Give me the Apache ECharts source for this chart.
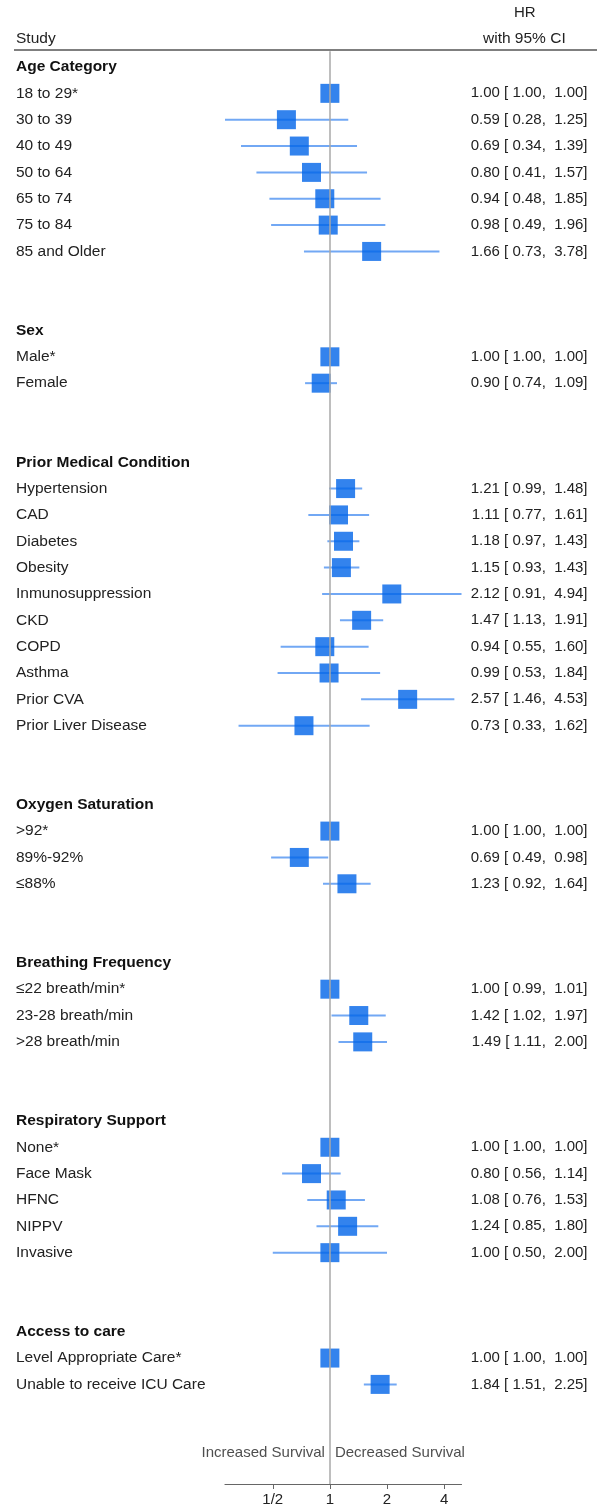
<!DOCTYPE html>
<html>
<head>
<meta charset="utf-8">
<script src="https://cdn.jsdelivr.net/npm/echarts@6/dist/echarts.min.js"></script>
<style>
  html, body { margin: 0; padding: 0; background: #fff; }
  #chart { width: 607px; height: 1507px; }
</style>
</head>
<body>
<div id="chart"></div>
<script>
// groups and how many studies each has
const groupNames = ["Age Category", "Sex", "Prior Medical Condition", "Oxygen Saturation",
  "Breathing Frequency", "Respiratory Support", "Access to care"];
const groupSizes = [7, 2, 10, 3, 3, 5, 2];

const studies = [
  "18 to 29*", "30 to 39", "40 to 49", "50 to 64", "65 to 74", "75 to 84", "85 and Older",
  "Male*", "Female",
  "Hypertension", "CAD", "Diabetes", "Obesity", "Inmunosuppression", "CKD", "COPD", "Asthma", "Prior CVA", "Prior Liver Disease",
  ">92*", "89%-92%", "≤88%",
  "≤22 breath/min*", "23-28 breath/min", ">28 breath/min",
  "None*", "Face Mask", "HFNC", "NIPPV", "Invasive",
  "Level Appropriate Care*", "Unable to receive ICU Care"
];
const hr = [1.00, 0.59, 0.69, 0.80, 0.94, 0.98, 1.66,
  1.00, 0.90,
  1.21, 1.11, 1.18, 1.15, 2.12, 1.47, 0.94, 0.99, 2.57, 0.73,
  1.00, 0.69, 1.23,
  1.00, 1.42, 1.49,
  1.00, 0.80, 1.08, 1.24, 1.00,
  1.00, 1.84];
const lower = [1.00, 0.28, 0.34, 0.41, 0.48, 0.49, 0.73,
  1.00, 0.74,
  0.99, 0.77, 0.97, 0.93, 0.91, 1.13, 0.55, 0.53, 1.46, 0.33,
  1.00, 0.49, 0.92,
  0.99, 1.02, 1.11,
  1.00, 0.56, 0.76, 0.85, 0.50,
  1.00, 1.51];
const upper = [1.00, 1.25, 1.39, 1.57, 1.85, 1.96, 3.78,
  1.00, 1.09,
  1.48, 1.61, 1.43, 1.43, 4.94, 1.91, 1.60, 1.84, 4.53, 1.62,
  1.00, 0.98, 1.64,
  1.01, 1.97, 2.00,
  1.00, 1.14, 1.53, 1.80, 2.00,
  1.00, 2.25];
const xTicks = [0.5, 1, 2, 4];
const xTickLabels = ["1/2", "1", "2", "4"];

// lay out rows: header, studies, two blank rows
let leftText = {};
let rightText = {};
let points = [];
let row = 0, k = 0;
groupNames.forEach((g, gi) => {
  leftText[row] = "{h|" + g + "}";
  row++;
  for (let j = 0; j < groupSizes[gi]; j++) {
    leftText[row] = studies[k];
    rightText[row] = hr[k].toFixed(2) + " [ " + lower[k].toFixed(2) + ",  " + upper[k].toFixed(2) + "]";
    points.push({ row: row, hr: hr[k], lo: lower[k], hi: upper[k] });
    row++; k++;
  }
  row += 2;
});
const lastRow = row - 3;
const bottomRow = lastRow + 3.78;

const chart = echarts.init(document.getElementById("chart"));
const font = "'Liberation Sans', Arial, sans-serif";

let option = {
  animation: false,
  textStyle: { fontFamily: font },
  grid: { left: 225, right: 145.5, top: 40.65, bottom: 1507 - 1484 },
  graphic: [
    { type: "text", left: 16, top: 31, style: { text: "Study", font: "15.5px " + font, fill: "#222" } },
    { type: "text", left: 514, top: 5, style: { text: "HR", font: "15px " + font, fill: "#222" } },
    { type: "text", left: 483, top: 31, style: { text: "with 95% CI", font: "15.5px " + font, fill: "#222" } },
    { type: "line", shape: { x1: 14, y1: 50, x2: 597, y2: 50 }, style: { stroke: "#555", lineWidth: 1.5 } }
  ],
  xAxis: {
    type: "log",
    logBase: 2,
    min: 0.28,
    max: 4.94,
    axisLine: { show: true, onZero: false, lineStyle: { color: "#666", width: 1.2 } },
    axisTick: { show: true, customValues: xTicks, length: 5, lineStyle: { color: "#666" } },
    axisLabel: {
      customValues: xTicks,
      formatter: (v) => xTickLabels[xTicks.indexOf(v)] || "",
      color: "#222", fontSize: 15, margin: 8
    },
    splitLine: { show: false }
  },
  yAxis: [
    {
      type: "value", inverse: true, min: -1, max: bottomRow, interval: 1,
      position: "left",
      axisLine: { show: false }, axisTick: { show: false }, splitLine: { show: false },
      axisLabel: {
        align: "left", margin: 209, color: "#222", fontSize: 15.5,
        formatter: (v) => leftText[v] || "",
        rich: { h: { fontWeight: "bold", fontSize: 15.5, color: "#111" } }
      }
    },
    {
      type: "value", inverse: true, min: -1, max: bottomRow, interval: 1,
      position: "right",
      axisLine: { show: false }, axisTick: { show: false }, splitLine: { show: false },
      axisLabel: {
        align: "right", margin: 126, color: "#222", fontSize: 15,
        formatter: (v) => rightText[v] || ""
      }
    }
  ],
  series: [
    {
      // confidence intervals
      type: "custom",
      data: points.map((p) => [p.lo, p.hi, p.row]),
      encode: { x: [0, 1], y: 2 },
      renderItem: function (params, api) {
        const a = api.coord([api.value(0), api.value(2)]);
        const b = api.coord([api.value(1), api.value(2)]);
        return {
          type: "line",
          shape: { x1: a[0], y1: a[1], x2: b[0], y2: b[1] },
          style: { stroke: "#72a8f4", lineWidth: 2 }
        };
      },
      markLine: {
        silent: true,
        symbol: "none",
        label: { show: false },
        lineStyle: { color: "#a8a8a8", width: 1.5, type: "solid" },
        data: [[{ coord: [1, -0.6] }, { coord: [1, bottomRow] }]]
      },
      z: 2
    },
    {
      type: "scatter",
      symbol: "rect",
      symbolSize: 19,
      itemStyle: { color: "#0064e8" },
      data: points.map((p) => [p.hr, p.row]),
      z: 3
    },
    {
      type: "scatter",
      symbolSize: 0,
      data: [
        { value: [1, lastRow + 2.6], label: { position: "left", formatter: "Increased Survival" } },
        { value: [1, lastRow + 2.6], label: { position: "right", formatter: "Decreased Survival" } }
      ],
      label: { show: true, distance: 5, color: "#222", fontSize: 15 },
      silent: true
    }
  ]
};
option && chart.setOption(option);
</script>
</body>
</html>
